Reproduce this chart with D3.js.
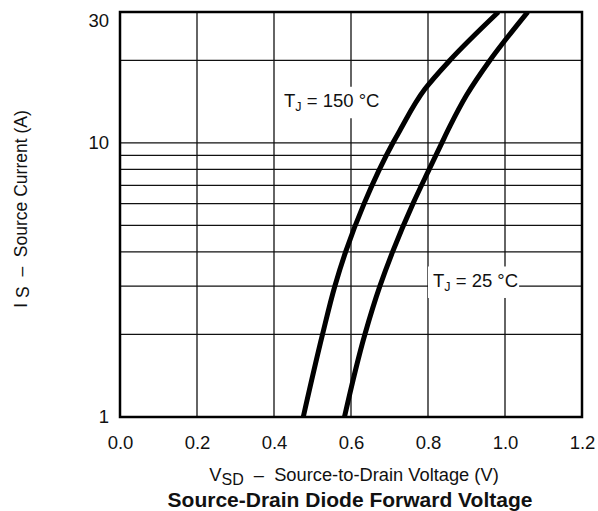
<!DOCTYPE html>
<html>
<head>
<meta charset="utf-8">
<script src="https://cdn.jsdelivr.net/npm/d3@7"></script>
<style>
  body { margin: 0; background: #fff; }
  svg { font-family: "Liberation Sans", Arial, Helvetica, sans-serif; }
  text { white-space: pre; }
</style>
</head>
<body>
<div id="chart"></div>
<script>
// tick values / gridlines
var xTicks = [0.0, 0.2, 0.4, 0.6, 0.8, 1.0, 1.2];
var yTicks = [1, 10, 30];
var yGrid = [2, 3, 4, 5, 6, 7, 8, 9, 10, 20];

// TJ = 150 C curve (V, A)
var v150 = [0.476, 0.526, 0.558, 0.586, 0.634, 0.709, 0.727, 0.792, 0.857, 0.983];
var i150 = [1, 2, 3, 4, 6, 10, 11.1, 15.7, 20, 30];

// TJ = 25 C curve (V, A)
var v25 = [0.583, 0.636, 0.675, 0.708, 0.761, 0.803, 0.836, 0.857, 0.900, 0.961, 1.059];
var i25 = [1, 2, 3, 4, 6, 8, 10, 11.5, 14.9, 20, 30];

var margin = {top: 12, right: 16, bottom: 94, left: 120};
var width = 598 - margin.left - margin.right;
var height = 511 - margin.top - margin.bottom;

var svg = d3.select("#chart")
  .append("svg")
    .attr("width", 598)
    .attr("height", 511)
  .append("g")
    .attr("transform", "translate(" + margin.left + "," + margin.top + ")");

var x = d3.scaleLinear().domain([0, 1.2]).range([0, width]);
var y = d3.scaleLog().domain([1, 30]).range([height, 0]);

// grid
svg.append("g")
  .selectAll("line")
  .data(xTicks.slice(1, -1))
  .enter().append("line")
    .attr("x1", function(d) { return x(d); })
    .attr("x2", function(d) { return x(d); })
    .attr("y1", 0).attr("y2", height)
    .attr("stroke", "#111").attr("stroke-width", 1.3);

svg.append("g")
  .selectAll("line")
  .data(yGrid)
  .enter().append("line")
    .attr("x1", 0).attr("x2", width)
    .attr("y1", function(d) { return y(d); })
    .attr("y2", function(d) { return y(d); })
    .attr("stroke", "#111").attr("stroke-width", 1.3);

// tick labels
svg.append("g")
  .attr("transform", "translate(0," + height + ")")
  .call(d3.axisBottom(x).tickValues(xTicks).tickSize(0).tickPadding(19)
    .tickFormat(d3.format(".1f")))
  .call(function(g) { g.select(".domain").remove(); })
  .selectAll("text")
    .attr("font-size", 18.5).attr("fill", "#111")
    .style("font-family", "Liberation Sans, Arial, sans-serif");

svg.append("g")
  .call(d3.axisLeft(y).tickValues(yTicks).tickSize(0).tickPadding(11)
    .tickFormat(d3.format("d")))
  .call(function(g) { g.select(".domain").remove(); })
  .selectAll("text")
    .attr("font-size", 18.5).attr("fill", "#111")
    .attr("dy", function(d) { return d === 30 ? "0.8em" : "0.32em"; })
    .style("font-family", "Liberation Sans, Arial, sans-serif");

// curves
svg.append("clipPath").attr("id", "clip")
  .append("rect").attr("width", width).attr("height", height);

var line = d3.line()
  .x(function(d) { return x(d[0]); })
  .y(function(d) { return y(d[1]); })
  .curve(d3.curveMonotoneY);

[[v150, i150], [v25, i25]].forEach(function(s) {
  svg.append("path")
    .datum(d3.zip(s[0], s[1]))
    .attr("clip-path", "url(#clip)")
    .attr("fill", "none")
    .attr("stroke", "#000")
    .attr("stroke-width", 5)
    .attr("d", line);
});

// curve labels on white boxes
function tjLabel(xv, yv, temp) {
  var box = svg.append("rect").attr("fill", "#fff");
  var t = svg.append("text")
    .attr("x", x(xv)).attr("y", y(yv))
    .attr("font-size", 18.5).attr("fill", "#111");
  t.append("tspan").text("T");
  t.append("tspan").attr("font-size", 12.5).attr("dy", 4).text("J");
  t.append("tspan").attr("dy", -4).text(" = " + temp + " \u00b0C");
  var bb = t.node().getBBox();
  box.attr("x", bb.x - 5).attr("y", y(yv) - 20.5)
    .attr("width", bb.width + 6).attr("height", 31.5);
}
tjLabel(0.426, 13.48, 150);
tjLabel(0.813, 2.98, 25);

// frame
svg.append("rect")
  .attr("width", width).attr("height", height)
  .attr("fill", "none").attr("stroke", "#000").attr("stroke-width", 2.5);

// axis titles
var xt = svg.append("text")
  .attr("x", 354 - margin.left).attr("y", 481 - margin.top)
  .attr("text-anchor", "middle")
  .attr("font-size", 18.3).attr("fill", "#111");
xt.append("tspan").text("V");
xt.append("tspan").attr("font-size", 16).attr("dy", 4).text("SD");
xt.append("tspan").attr("dy", -4).text("  \u2013  Source-to-Drain Voltage (V)");

svg.append("text")
  .attr("x", 350 - margin.left).attr("y", 507 - margin.top)
  .attr("text-anchor", "middle")
  .attr("font-size", 21).attr("font-weight", "bold").attr("fill", "#111")
  .text("Source-Drain Diode Forward Voltage");

var yt = svg.append("text")
  .attr("transform", "translate(" + (27 - margin.left) + "," + (209 - margin.top) + ") rotate(-90)")
  .attr("text-anchor", "middle")
  .attr("font-size", 17.5).attr("fill", "#111");
yt.append("tspan").text("I ");
yt.append("tspan").attr("dy", 2).text("S");
yt.append("tspan").attr("dy", -2).text("  \u2013  Source Current (A)");
</script>
</body>
</html>
